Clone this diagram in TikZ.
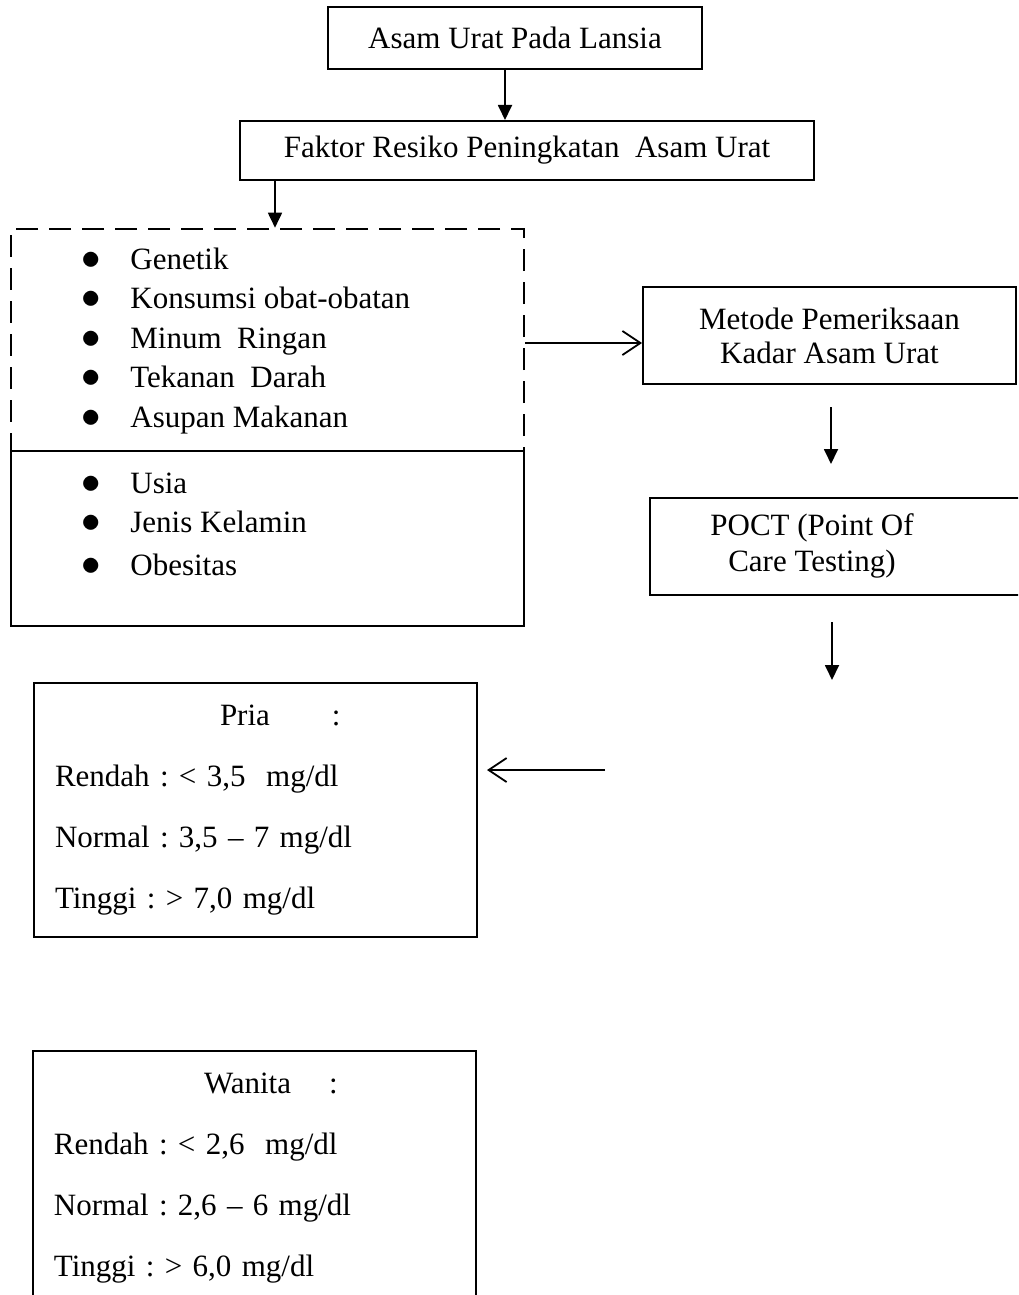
\documentclass[tikz,border=0pt]{standalone}
\usepackage{fontspec}
\setmainfont{Liberation Serif}
\usepackage{tikz}
\usetikzlibrary{positioning,arrows.meta,calc}
\newcommand{\itm}{\makebox[24.5pt][l]{\scalebox{1.35}{$\bullet$}}}
\frenchspacing

\begin{document}
\begin{tikzpicture}[
  x=0.5pt, y=-0.5pt,
  font=\fontsize{15.5}{19.75}\selectfont\frenchspacing,
  box/.style={draw, line width=1pt, inner sep=0pt, align=center},
  dashbox/.style={draw, line width=1.3pt, dash pattern=on 11pt off 5.5pt},
  rangebox/.style={draw, line width=1pt, inner xsep=10.5pt, text width=200.5pt, align=left, minimum height=127pt, font=\fontsize{15.5}{30.5}\selectfont\frenchspacing},
  bullets/.style={align=left, inner sep=0pt, anchor=base west},
  arr/.style={-{Triangle[length=7.5pt,width=7pt]}, line width=0.9pt},
  barb/.style={-{Straight Barb[length=9pt,width=12pt]}, line width=0.9pt}
]
\useasboundingbox (0,0) rectangle (1018,1295);
\clip (0,0) rectangle (1018,1295);
% Top of the chart
\node[box, minimum width=187pt, minimum height=31pt] (lansia) at (515,38) {Asam Urat Pada Lansia};
\node[box, minimum width=287pt, minimum height=29.5pt] (faktor) at (527,150.5) {Faktor Resiko Peningkatan\ \ Asam Urat};
% Risk factors (anchored at the last baseline)
\node[dashbox, minimum width=256.5pt, minimum height=111pt] (ubah) at (267.5,340) {};
\node[box, minimum width=256.5pt, minimum height=87.5pt] (tetap) at (267.5,538.5) {};
\node[bullets] (ubahlist) at (81,427) {\itm Genetik\\ \itm Konsumsi obat-obatan\\ \itm Minum\ \ Ringan\\ \itm Tekanan\ \ Darah\\ \itm Asupan Makanan};
\node[bullets] (tetaplist) at (81,575) {\itm Usia\\[-0.25pt] \itm Jenis Kelamin\\[1.5pt] \itm Obesitas};
% Right lane
\node[box, minimum width=186.5pt, minimum height=48.5pt, font=\fontsize{15.5}{17}\selectfont] (metode) at (829.5,335.5) {Metode Pemeriksaan\\Kadar Asam Urat};
\node[box, minimum width=195pt, minimum height=48.5pt] (poct) at (845,546.5) {};
\node[align=center, inner sep=0pt, font=\fontsize{15.5}{18}\selectfont] (poctlbl) at (812,546) {POCT (Point Of\\ Care Testing)};
\coordinate (poctend) at (832,680);
\coordinate (kadar) at (605,770);
% Reference values
\node[rangebox] (pria) at (255.5,810) {\hspace*{82.5pt}Pria\hspace{31pt}:\\ Rendah : < 3,5\ \ mg/dl\\ Normal : 3,5 -- 7 mg/dl\\ Tinggi : > 7,0 mg/dl};
\node[rangebox] (wanita) at (254.5,1178) {\hspace*{75pt}Wanita\hspace{19pt}:\\ Rendah : < 2,6\ \ mg/dl\\ Normal : 2,6 -- 6 mg/dl\\ Tinggi : > 6,0 mg/dl};
% Edges
\draw[arr] (lansia.south -| 505,0) -- (faktor.north -| 505,0);
\draw[arr] (faktor.south -| 275,0) -- (ubah.north -| 275,0);
\draw[barb] (ubah.east |- 0,343) -- (metode.west |- 0,343);
\draw[arr, shorten <=11pt, shorten >=16.5pt] (metode.south -| 831,0) -- (poct.north -| 831,0);
\draw[arr, shorten <=13pt] (poct.south -| 832,0) -- (poctend);
\draw[barb, shorten >=4.5pt] (kadar) -- (pria.east |- kadar);
\end{tikzpicture}
\end{document}
